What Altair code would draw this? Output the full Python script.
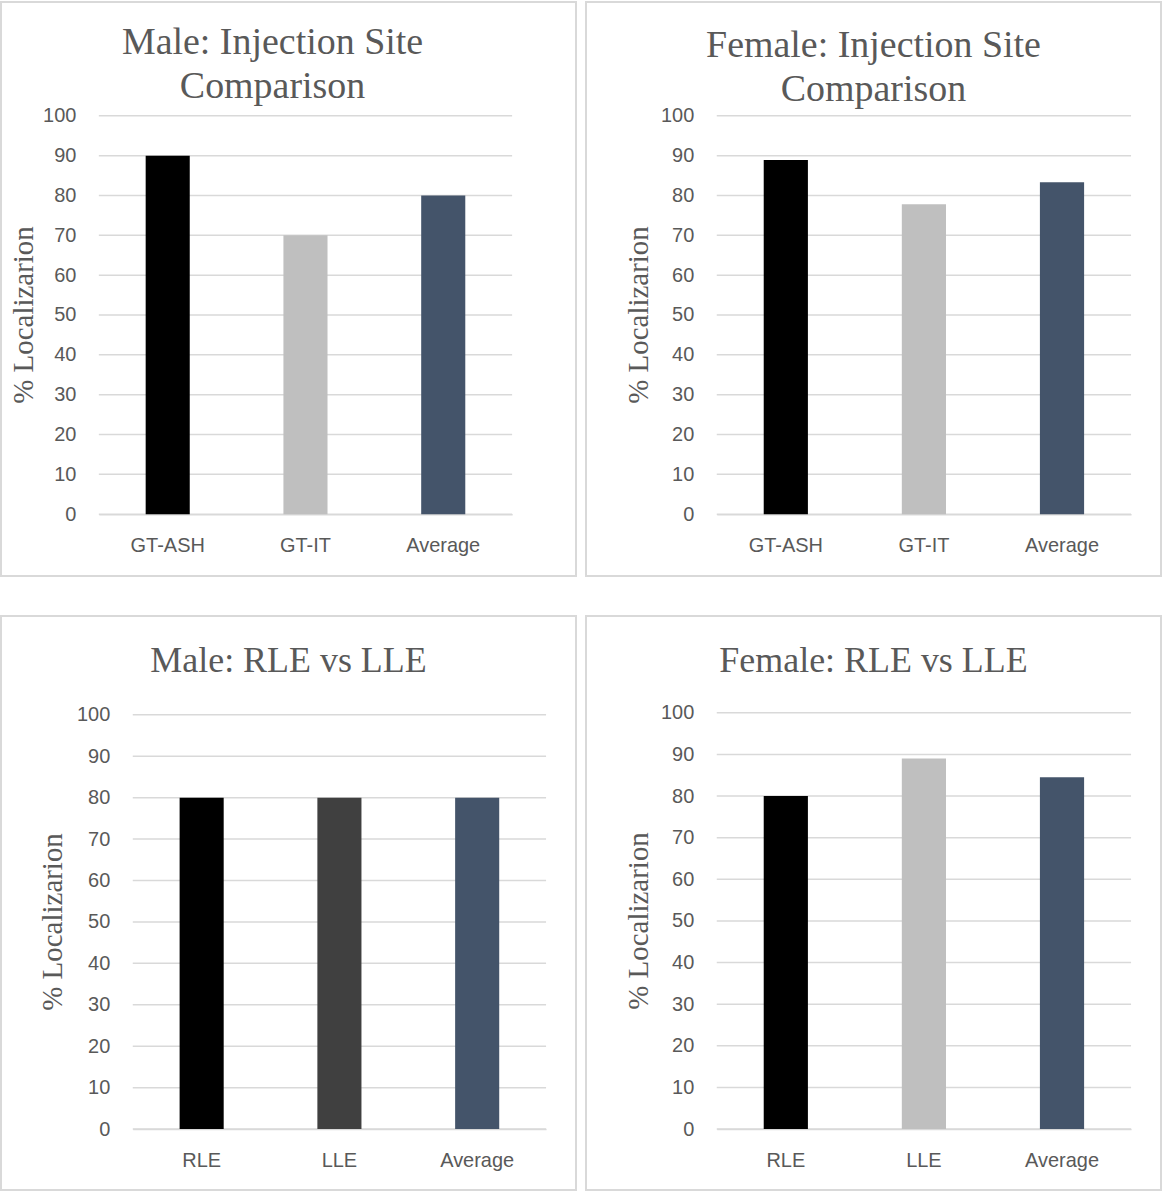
import altair as alt
import pandas as pd

# ---- data -------------------------------------------------------------
injection_categories = ["GT-ASH", "GT-IT", "Average"]
side_categories = ["RLE", "LLE", "Average"]

male_injection = [90, 70, 80]
female_injection = [88.9, 77.8, 83.3]
male_side = [80, 80, 80]
female_side = [80, 89, 84.5]

injection_colors = ["#000000", "#BFBFBF", "#44546A"]
male_side_colors = ["#000000", "#404040", "#44546A"]
female_side_colors = ["#000000", "#BFBFBF", "#44546A"]

panel_titles = [
    ["Male: Injection Site", "Comparison"],
    ["Female: Injection Site", "Comparison"],
    ["Male: RLE vs LLE"],
    ["Female: RLE vs LLE"],
]
y_axis_title = "% Localizarion"
y_ticks = list(range(0, 101, 10))

# ---- styling ----------------------------------------------------------
GRID = "#D9D9D9"
TEXT = "#595959"
SANS = "Liberation Sans"
SERIF = "Liberation Serif"
BOX_W, BOX_H = 576, 575


def label(text, x, y, size, angle=0):
    return alt.Chart(pd.DataFrame({"t": [text]})).mark_text(
        font=SERIF, fontSize=size, color=TEXT, align="center",
        baseline="alphabetic", angle=angle,
    ).encode(text="t:N", x=alt.value(x), y=alt.value(y))


def panel(categories, values, colors, title_lines, x_range, y_range,
          title_x, title_ys, axis_title_x, title_size):
    """One framed chart; the frame is the view itself, the plot sits inside it."""
    df = pd.DataFrame({"category": categories, "value": values, "color": colors})
    y_scale = alt.Scale(domain=[0, 100], range=y_range, nice=False)
    y_axis = alt.Axis(
        title=None, values=y_ticks, ticks=False, domain=False, grid=False,
        offset=-x_range[0],
        labelPadding=23, labelFont=SANS, labelFontSize=20, labelColor=TEXT,
    )

    grid = alt.Chart(pd.DataFrame({"value": y_ticks})).mark_rule(
        color=GRID, strokeWidth=1.5
    ).encode(
        y=alt.Y("value:Q", scale=y_scale, axis=y_axis),
        x=alt.value(x_range[0]),
        x2=alt.value(x_range[1]),
    )

    bars = alt.Chart(df).mark_bar().encode(
        x=alt.X(
            "category:N",
            sort=categories,
            scale=alt.Scale(range=x_range, paddingInner=0.68, paddingOuter=0.34),
            axis=alt.Axis(
                title=None, labelAngle=0, ticks=False, grid=False,
                domain=True, domainColor=GRID, domainWidth=1.5,
                offset=-(BOX_H - y_range[0]),
                labelPadding=21, labelFont=SANS, labelFontSize=20,
                labelColor=TEXT, labelBaseline="top",
            ),
        ),
        y=alt.Y("value:Q", scale=y_scale, axis=y_axis),
        color=alt.Color("color:N", scale=None),
    )

    mid_y = (y_range[0] + y_range[1]) / 2
    layers = [grid, bars, label(y_axis_title, axis_title_x, mid_y, 29, angle=270)]
    for line, ty in zip(title_lines, title_ys):
        layers.append(label(line, title_x, ty, title_size))
    return alt.layer(*layers).properties(width=BOX_W, height=BOX_H)


p1 = panel(injection_categories, male_injection, injection_colors, panel_titles[0],
           [98, 512], [513, 114], 272, [52, 96], 32, 38)
p2 = panel(injection_categories, female_injection, injection_colors, panel_titles[1],
           [131, 546], [513, 114], 288, [55, 99], 62, 38)
p3 = panel(side_categories, male_side, male_side_colors, panel_titles[2],
           [132, 546], [514, 99], 288, [56], 61, 36)
p4 = panel(side_categories, female_side, female_side_colors, panel_titles[3],
           [131, 546], [514, 97], 288, [56], 62, 36)

chart = alt.concat(
    p1, p2, p3, p4,
    columns=2,
    spacing=alt.RowColnumber(row=38, column=8),
).properties(padding=0, background="#FFFFFF").configure_view(
    stroke=GRID, strokeWidth=2, fill="#FFFFFF"
)

chart.save("out.html", embed_options={"renderer": "svg", "actions": False})
